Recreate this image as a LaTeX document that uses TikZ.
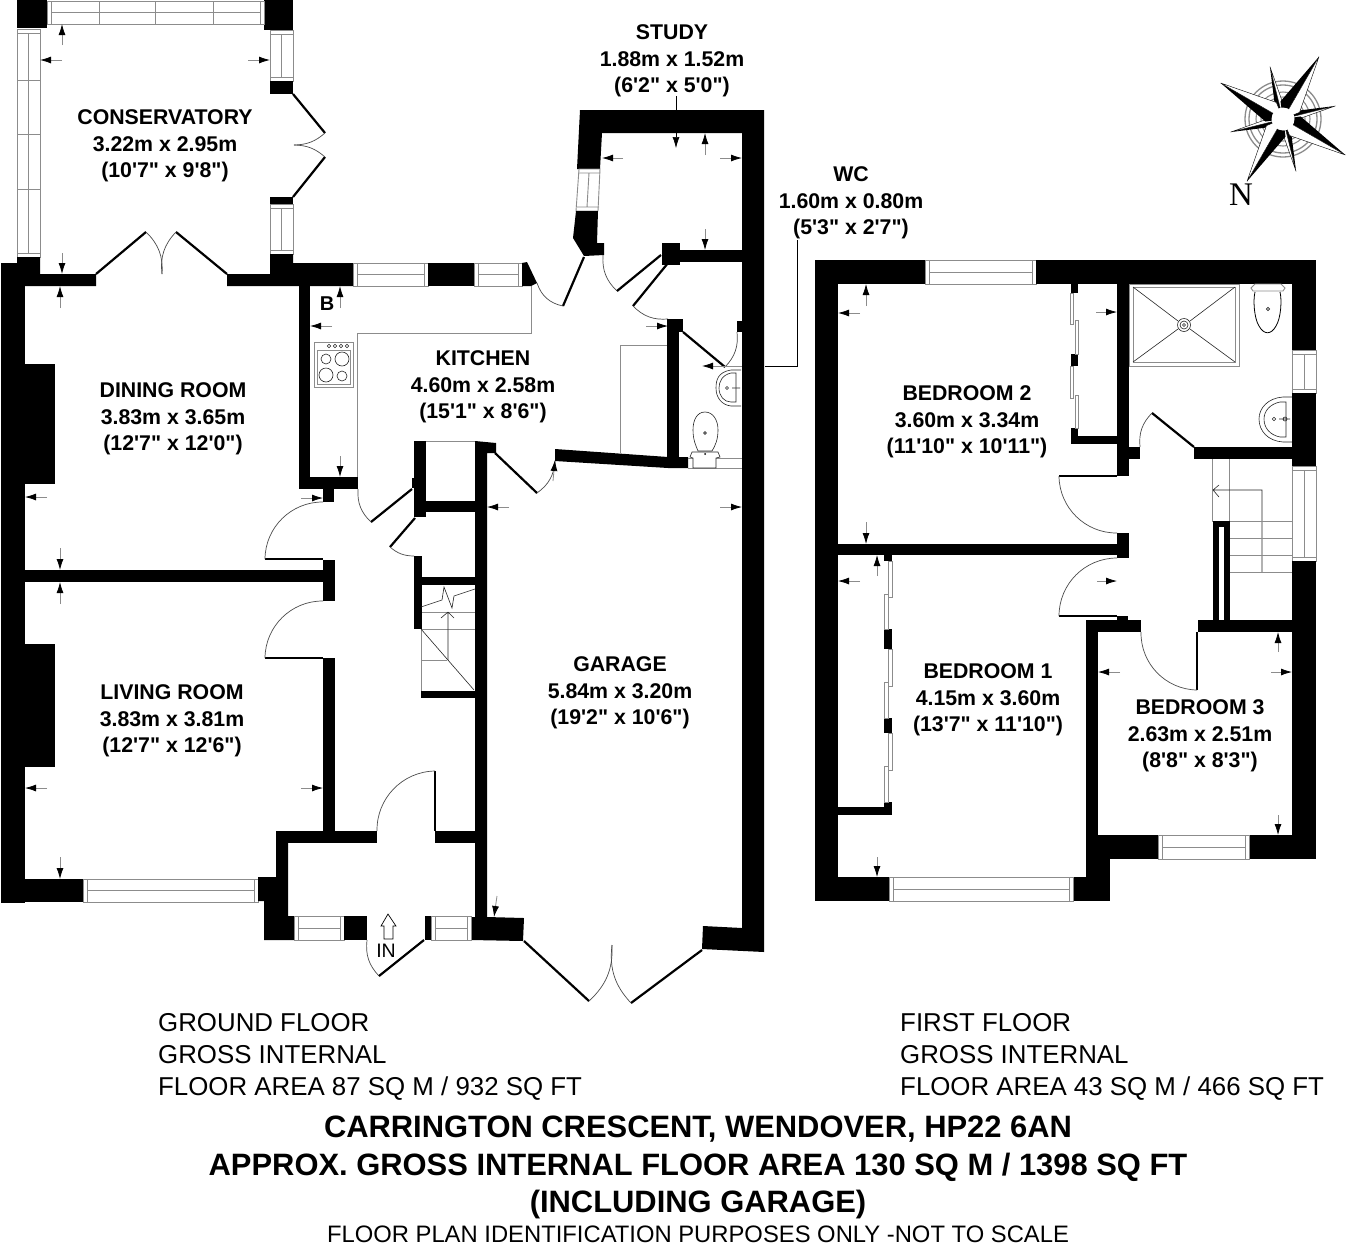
\documentclass[tikz,border=0pt]{standalone}
\usepackage{fontspec}
\usetikzlibrary{arrows.meta,calc}
\newfontfamily\labfont{Liberation Sans}
\definecolor{fitgray}{gray}{0.55}
\tikzset{
  wallfill/.style={fill=black},
  fitting/.style={draw=fitgray,line width=0.9pt},
  thinline/.style={draw=black!85,line width=0.6pt},
  doorleaf/.style={draw=black,line width=2.2pt},
  thinleaf/.style={draw=black,line width=1.4pt},
  swing/.style={draw=black!70,line width=0.7pt},
  dimarrow/.style={draw=fitgray,line width=0.8pt,-{Latex[black,length=11pt,width=7pt]}},
  roomlabel/.style={font=\labfont\bfseries\fontsize{21.3}{26.5}\selectfont,align=center,inner sep=0pt,yshift=-2pt},
  smalllabel/.style={font=\labfont\fontsize{25.85}{25.85}\selectfont,anchor=base west,inner sep=0pt},
  titlelabel/.style={font=\labfont\bfseries\fontsize{30.9}{30.9}\selectfont,anchor=base,inner sep=0pt},
}
\newcommand\wallrect[4]{\fill[wallfill] (#1,#2) rectangle (#3,#4);}
\newcommand\winh[4]{\draw[fitting,fill=white] (#1,#2) rectangle (#3,#4);
  \draw[fitting] (#1+4,#2) -- (#1+4,#4) (#3-4,#2) -- (#3-4,#4) (#1+4,{(#2+#4)/2}) -- (#3-4,{(#2+#4)/2});}
\newcommand\winv[4]{\draw[fitting,fill=white] (#1,#2) rectangle (#3,#4);
  \draw[fitting] (#1,#2+4) -- (#3,#2+4) (#1,#4-4) -- (#3,#4-4) ({(#1+#3)/2},#2+4) -- ({(#1+#3)/2},#4-4);}
\newcommand\dimar[4]{\draw[dimarrow] (#1,#2) -- (#3,#4);}
\begin{document}
\begin{tikzpicture}[x=1pt,y=-1pt]
\useasboundingbox (0,0) rectangle (1352,1248);
\fill[white] (0,0) rectangle (1352,1248);

% ---------- GROUND FLOOR: conservatory
\wallrect{17}{0}{47}{28}
\wallrect{264}{0}{293}{30}
\winh{47}{1}{264}{24}
\draw[fitting] (99,1) -- (99,24) (155,1) -- (155,24) (213,1) -- (213,24);
\winv{17}{29}{40}{257}
\draw[fitting] (17,80) -- (40,80) (17,134) -- (40,134) (17,189) -- (40,189);
\winv{270}{30}{293}{81}
\wallrect{270}{81}{293}{94}
\wallrect{270}{197}{293}{204}
\winv{270}{204}{293}{254}
\fill[wallfill] (270,254) -- (293,254) -- (293,263) -- (353,263) -- (353,286) -- (227,286) -- (227,274) -- (270,274) -- cycle;
\fill[wallfill] (17,257) -- (40,257) -- (40,274) -- (96,274) -- (96,286) -- (25,286) -- (25,263) -- (17,263) -- cycle;
\draw[doorleaf] (293,94) -- (325,133);
\draw[doorleaf] (293,197) -- (325,157);
\draw[swing] (325,133) to[bend left=20] (294,145);
\draw[swing] (325,157) to[bend right=20] (294,145);
\draw[doorleaf] (96,274) -- (146,232);
\draw[doorleaf] (227,274) -- (176,232);
\draw[swing] (146,232) to[bend left=25] (162,274);
\draw[swing] (176,232) to[bend right=25] (162,274);

% ---------- dining, living outer
\wallrect{1}{263}{25}{903}
\wallrect{25}{364}{55}{484}
\wallrect{25}{644}{55}{767}
\wallrect{1}{879}{83}{902}
\winh{83}{879}{258}{902}
\wallrect{25}{570}{323}{582}
\wallrect{323}{560}{335}{601}
\wallrect{323}{658}{335}{831}
\wallrect{299}{286}{310}{489}
\wallrect{299}{477}{358}{489}
\wallrect{323}{489}{334}{502}
\draw[thinleaf] (265,559) -- (323,559);
\draw[swing] (265,559) to[bend left=45] (323,502);
\draw[thinleaf] (265,658) -- (323,658);
\draw[swing] (265,658) to[bend left=45] (323,601);

% ---------- kitchen top
\winh{353}{263}{428}{286}
\wallrect{428}{263}{474}{286}
\winh{474}{263}{522}{286}
\fill[wallfill] (522,263) -- (527,262) -- (537,283) -- (531,286) -- (522,286) -- cycle;
\draw[fitting] (531,286) -- (531,333) -- (357,333) -- (357,477);
\draw[fitting] (620,453) -- (620,345) -- (668,345);
\draw[doorleaf] (563,306) -- (584,257);
\draw[swing] (537,283) to[bend right=30] (563,306);
% cooker
\draw[fitting] (314,342) rectangle (353,387);
\draw[fitting] (317,350) rectangle (350,384);
\foreach \kx in {329,335,341,347} {\draw[thinline] (\kx,346) circle (1.8);}
\draw[thinline] (326,359) circle (5) (342,359) circle (7) (326,375) circle (7) (342,376) circle (5);

% ---------- study + garage right wall
\fill[wallfill] (580,110) -- (764,110) -- (764,952) -- (702,949) -- (703,926) -- (742,928) -- (742,133) -- (602,133) -- (600,169) -- (577,169) -- cycle;
\draw[fitting,fill=white] (579,169) -- (600,169) -- (598,211) -- (576,211) -- cycle;
\draw[fitting] (578,173) -- (600,173) (577,207) -- (599,207) (589,173) -- (587,207);
\fill[wallfill] (576,211) -- (598,211) -- (597,243) -- (604,243) -- (604,255) -- (584,256) -- (573,238) -- cycle;
\draw[swing] (603,255) to[bend right=25] (617,291);
\draw[doorleaf] (617,291) -- (661,255);
\wallrect{662}{243}{680}{265}
\wallrect{680}{250}{742}{262}
\draw[doorleaf] (633,306) -- (668,263);
\draw[swing] (633,306) to[bend right=25] (668,319);
\wallrect{668}{319}{683}{332}
\wallrect{667}{319}{679}{468}
\fill[wallfill] (555,449) -- (668,457) -- (688,457) -- (688,468) -- (668,468) -- (555,461) -- cycle;
\draw[doorleaf] (683,332) -- (725,367);
\draw[swing] (725,367) to[bend right=25] (737,332);
\wallrect{737}{321}{742}{332}
\draw[fitting] (725,366) -- (742,366);
\draw[fitting] (688,458) -- (742,458) (688,468) -- (742,468);
% WC fittings
\draw[thinline] (741,370) -- (731,370) .. controls (718,372) and (716,380) .. (716,388) .. controls (716,398) and (722,405) .. (731,406) -- (741,406);
\draw[thinline] (736,373) -- (731,373) .. controls (722,375) and (719,382) .. (719,388) .. controls (719,396) and (724,402) .. (731,402) -- (736,402) -- cycle;
\draw[thinline] (727,388) circle (1.5) (732,388) -- (740,388);
\draw[thinline,fill=white] (705,412) .. controls (697,412) and (693,420) .. (693,430) .. controls (693,440) and (696,446) .. (698,451) -- (712,451) .. controls (715,446) and (718,440) .. (718,430) .. controls (718,420) and (713,412) .. (705,412) -- cycle;
\draw[thinline] (705,433) circle (1.4);
\draw[thinline,fill=white] (692,452) -- (718,452) -- (720,457) -- (716,458) -- (716,468) -- (693,468) -- (693,458) -- (690,457) -- cycle;
\fill (705,454) circle (1);

% ---------- central garage wall and hall
\fill[wallfill] (475,441) -- (496,443) -- (496,453) -- (487,453) -- (487,917) -- (524,918) -- (523,941) -- (471,940) -- (471,917) -- (475,917) -- cycle;
\draw[doorleaf] (495,453) -- (537,493);
\draw[swing] (537,493) to[bend right=25] (555,461);
\wallrect{414}{441}{426}{517}
\wallrect{412}{478}{415}{488}
\draw[fitting] (426,441.5) -- (475,441.5);
\wallrect{426}{501}{475}{512}
\draw[doorleaf] (371,522) -- (412,489);
\draw[swing] (358,489) to[bend right=25] (371,522);
\draw[doorleaf] (390,547) -- (415,518);
\draw[swing] (390,547) to[bend right=20] (414,556);
\wallrect{414}{556}{422}{629}
\wallrect{422}{577}{475}{585}
\wallrect{421}{691}{475}{698}
% stairs
\draw[fitting] (422,612) -- (475,612) (422,629) -- (475,629) (421,660) -- (447,660) (421,629) -- (421,691);
\draw[thinline] (421,629) -- (474,690);
\draw[thinline] (448,660) -- (448,612) (441,618) -- (448,612) (454,618) -- (448,612);
\draw[thinline] (421,607) -- (442,600) -- (444,587) -- (452,608) -- (454,596) -- (475,589);

% ---------- porch
\wallrect{276}{831}{377}{843}
\wallrect{435}{831}{475}{843}
\fill[wallfill] (258,877) -- (276,877) -- (276,831) -- (288,831) -- (288,916) -- (294,916) -- (294,940) -- (264,940) -- (264,901) -- (258,901) -- cycle;
\winh{294}{916}{344}{940}
\wallrect{344}{916}{367}{940}
\draw[swing] (367,940) to[bend right=25] (379,976);
\draw[doorleaf] (379,976) -- (424,940);
\wallrect{425}{916}{431}{940}
\winh{431}{916}{471}{940}
\draw[thinleaf] (435,771) -- (435,831);
\draw[swing] (377,831) to[bend left=45] (435,771);
\draw[line width=0.7pt] (388,914) -- (396,926) -- (393,926) -- (393,939) -- (384,939) -- (384,926) -- (381,926) -- cycle;
% garage doors
\draw[doorleaf] (524,941) -- (589,1001);
\draw[doorleaf] (631,1003) -- (702,950);
\draw[swing] (589,1001) to[bend right=25] (612,945);
\draw[swing] (631,1003) to[bend left=25] (612,945);

% ---------- WC leader lines
\coordinate (wcwall) at (765,366);
\coordinate (wccorner) at (797,366);
\coordinate (wctop) at (797,240);
\draw[black,line width=0.6pt] (wcwall) -- (wccorner) -- (wctop);
\coordinate (studytop) at (676,96);
\coordinate (studywall) at (676,110);
\draw[black,line width=0.6pt] (studytop) -- (studywall);

% ---------- FIRST FLOOR
\wallrect{815}{260}{838}{901}
\wallrect{815}{260}{925}{284}
\winh{925}{260}{1036}{284}
\wallrect{1036}{260}{1316}{284}
\wallrect{1292}{284}{1316}{350}
\winv{1292}{350}{1316}{393}
\wallrect{1292}{393}{1316}{466}
\winv{1292}{466}{1316}{561}
\wallrect{1292}{561}{1316}{859}
\wallrect{1249}{835}{1316}{859}
\winh{1158}{835}{1249}{859}
\wallrect{1086}{835}{1158}{859}
\wallrect{1086}{620}{1098}{901}
\wallrect{1073}{877}{1110}{901}
\wallrect{1086}{859}{1110}{877}
\winh{889}{877}{1073}{901}
\wallrect{815}{877}{889}{901}
\wallrect{838}{544}{1118}{555}
\wallrect{1117}{533}{1129}{558}
\wallrect{1117}{284}{1129}{476}
\draw[thinleaf] (1059,476) -- (1117,476);
\draw[swing] (1059,476) to[bend right=45] (1117,533);
\wallrect{1129}{447}{1140}{459}
\draw[doorleaf] (1152,413) -- (1194,447);
\draw[swing] (1140,447) to[bend left=25] (1152,413);
\wallrect{1194}{447}{1292}{459}
% wardrobe, bedroom 2
\wallrect{1071}{436}{1117}{444}
\wallrect{1071}{428}{1078}{444}
\wallrect{1071}{284}{1078}{293}
\wallrect{1071}{354}{1078}{366}
\draw[fitting] (1070,293) rectangle (1073,324) (1075,320) rectangle (1078,354) (1070,366) rectangle (1073,398) (1075,395) rectangle (1078,428);
% landing stairs
\draw[fitting] (1212,459) -- (1212,522) (1229,459) -- (1229,522);
\fill[wallfill] (1213,521) rectangle (1230,620);
\fill[white] (1219,527) rectangle (1224,620);
\draw[thinline] (1219,485) -- (1213,490) -- (1219,497) (1213,490) -- (1262,490) -- (1262,572);
\draw[fitting] (1230,521) -- (1292,521) (1230,538) -- (1292,538) (1230,555) -- (1292,555) (1230,572) -- (1292,572);
\wallrect{1198}{620}{1292}{632}
\wallrect{1086}{620}{1141}{632}
\wallrect{1117}{616}{1128}{620}
\draw[thinleaf] (1059,616) -- (1117,616);
\draw[swing] (1059,616) to[bend left=45] (1117,558);
\draw[thinleaf] (1197,632) -- (1197,690);
\draw[swing] (1197,690) to[bend left=45] (1141,632);
% wardrobe, bedroom 1
\wallrect{838}{807}{892}{815}
\wallrect{884}{802}{892}{815}
\wallrect{884}{555}{892}{561}
\wallrect{884}{629}{892}{649}
\wallrect{884}{718}{892}{733}
\draw[fitting] (888,561) rectangle (892,597) (884,594) rectangle (888,629) (888,649) rectangle (892,686) (884,682) rectangle (888,718) (888,733) rectangle (892,770) (884,766) rectangle (888,802);
% shower
\draw[fitting] (1129,284) rectangle (1239,366);
\draw[fitting] (1133,287) rectangle (1235,362);
\draw[thinline] (1133,287) -- (1178,321) (1235,287) -- (1190,321) (1133,362) -- (1178,329) (1235,362) -- (1190,329);
\draw[thinline] (1184,325) circle (6.5) (1184,325) circle (4) (1184,325) circle (1.5);
% toilet
\draw[fitting,fill=white] (1251,288) -- (1255,284) -- (1281,284) -- (1285,288) -- (1283,291) -- (1253,291) -- cycle;
\draw[black,line width=0.8pt,fill=white] (1255,292) .. controls (1253,300) and (1254,318) .. (1259,326) .. controls (1264,335) and (1271,335) .. (1276,326) .. controls (1281,318) and (1282,300) .. (1280,292);
\draw[thinline] (1268,309) circle (1.6);
% basin
\draw[thinline] (1292,397) -- (1283,397) .. controls (1268,398) and (1259,408) .. (1259,419) .. controls (1259,431) and (1268,441) .. (1283,442) -- (1292,442);
\draw[thinline] (1286,402) -- (1280,402) .. controls (1270,404) and (1264,411) .. (1264,419) .. controls (1264,428) and (1270,435) .. (1280,437) -- (1286,437) -- cycle;
\draw[thinline] (1274,419) circle (1.7) (1285,419) circle (2) (1279,419) -- (1290,419);

% ---------- dimension arrows
\dimar{62}{45}{62}{24} \dimar{62}{60}{40}{60} \dimar{248}{60}{270}{60} \dimar{62}{253}{62}{274}
\dimar{60}{308}{60}{286} \dimar{340}{308}{340}{286} \dimar{332}{326}{310}{326} \dimar{340}{456}{340}{477}
\dimar{301}{498}{323}{498} \dimar{47}{497}{25}{497} \dimar{60}{548}{60}{570} \dimar{60}{604}{60}{582}
\dimar{47}{788}{25}{788} \dimar{301}{788}{323}{788} \dimar{60}{857}{60}{879}
\draw[black,line width=0.6pt,-{Latex[black,length=11pt,width=7pt]}] (676,133) -- (676,148);
\dimar{705}{155}{705}{133} \dimar{623}{158}{602}{158} \dimar{720}{158}{742}{158} \dimar{705}{229}{705}{250}
\dimar{646}{326}{668}{326} \dimar{725}{366}{702}{366} \dimar{553}{481}{555}{460}
\dimar{509}{507}{487}{507} \dimar{720}{507}{742}{507} \dimar{497}{896}{494}{917}
\dimar{866}{306}{866}{284} \dimar{860}{313}{838}{313} \dimar{866}{522}{866}{544} \dimar{1096}{312}{1117}{312}
\dimar{877}{576}{877}{555} \dimar{860}{581}{838}{581} \dimar{1097}{581}{1117}{581} \dimar{877}{857}{877}{877}
\dimar{1278}{652}{1278}{632} \dimar{1120}{672}{1098}{672} \dimar{1271}{672}{1292}{672} \dimar{1278}{815}{1278}{835}

% ---------- compass
\begin{scope}[shift={(1283,119)}]
  \draw[fitgray,line width=1.3pt] (0,0) circle (38) (0,0) circle (34);
  \draw[fitgray,line width=1.1pt] (0,0) circle (27) (0,0) circle (22);
  \foreach \ang in {14,104,194,284} {
    \begin{scope}[rotate=\ang]
      \fill[black] (0,0) -- (12,-5) -- (54,0) -- cycle;
      \draw[black,line width=0.4pt,fill=white] (0,0) -- (12,4) -- (54,0) -- cycle;
    \end{scope}
  }
  \foreach \ang in {60,150,240,330} {
    \begin{scope}[rotate=\ang]
      \fill[black] (0,0) -- (14,-11) -- (72,0) -- cycle;
      \draw[black,line width=0.4pt,fill=white] (0,0) -- (14,11) -- (72,0) -- cycle;
    \end{scope}
  }
  \fill[white] (0,0) circle (11.5);
\end{scope}
\node[font=\fontspec{Liberation Serif}\fontsize{33}{33}\selectfont,inner sep=0pt] (north) at (1241,195) {N};

% ---------- room labels
\node[roomlabel] (conservatory) at (165,144) {CONSERVATORY\\3.22m x 2.95m\\(10'7" x 9'8")};
\node[roomlabel] (study) at (672,59) {STUDY\\1.88m x 1.52m\\(6'2" x 5'0")};
\node[roomlabel] (wc) at (851,201) {WC\\1.60m x 0.80m\\(5'3" x 2'7")};
\node[roomlabel] (dining) at (173,417) {DINING ROOM\\3.83m x 3.65m\\(12'7" x 12'0")};
\node[roomlabel] (living) at (172,719) {LIVING ROOM\\3.83m x 3.81m\\(12'7" x 12'6")};
\node[roomlabel] (kitchen) at (483,385) {KITCHEN\\4.60m x 2.58m\\(15'1" x 8'6")};
\node[roomlabel] (garage) at (620,691) {GARAGE\\5.84m x 3.20m\\(19'2" x 10'6")};
\node[roomlabel] (bed2) at (967,420) {BEDROOM 2\\3.60m x 3.34m\\(11'10" x 10'11")};
\node[roomlabel] (bed1) at (988,698) {BEDROOM 1\\4.15m x 3.60m\\(13'7" x 11'10")};
\node[roomlabel] (bed3) at (1200,734) {BEDROOM 3\\2.63m x 2.51m\\(8'8" x 8'3")};
\node[font=\labfont\bfseries\fontsize{20}{20}\selectfont,inner sep=0pt] (boiler) at (327,304) {B};
\node[font=\labfont\fontsize{19.5}{19.5}\selectfont,inner sep=0pt] (inlabel) at (386,951) {IN};

% ---------- captions
\node[smalllabel] (gf1) at (158,1031) {GROUND FLOOR};
\node[smalllabel] (gf2) at (158,1063) {GROSS INTERNAL};
\node[smalllabel] (gf3) at (158,1095) {FLOOR AREA 87 SQ M / 932 SQ FT};
\node[smalllabel] (ff1) at (900,1031) {FIRST FLOOR};
\node[smalllabel] (ff2) at (900,1063) {GROSS INTERNAL};
\node[smalllabel] (ff3) at (900,1095) {FLOOR AREA 43 SQ M / 466 SQ FT};
\node[titlelabel] (t1) at (698,1137) {CARRINGTON CRESCENT, WENDOVER, HP22 6AN};
\node[titlelabel] (t2) at (698,1175) {APPROX. GROSS INTERNAL FLOOR AREA 130 SQ M / 1398 SQ FT};
\node[titlelabel] (t3) at (698,1212) {(INCLUDING GARAGE)};
\node[font=\labfont\fontsize{23.8}{23.8}\selectfont,anchor=base,inner sep=0pt] (t4) at (698,1242) {FLOOR PLAN IDENTIFICATION PURPOSES ONLY -NOT TO SCALE};
\end{tikzpicture}
\end{document}
